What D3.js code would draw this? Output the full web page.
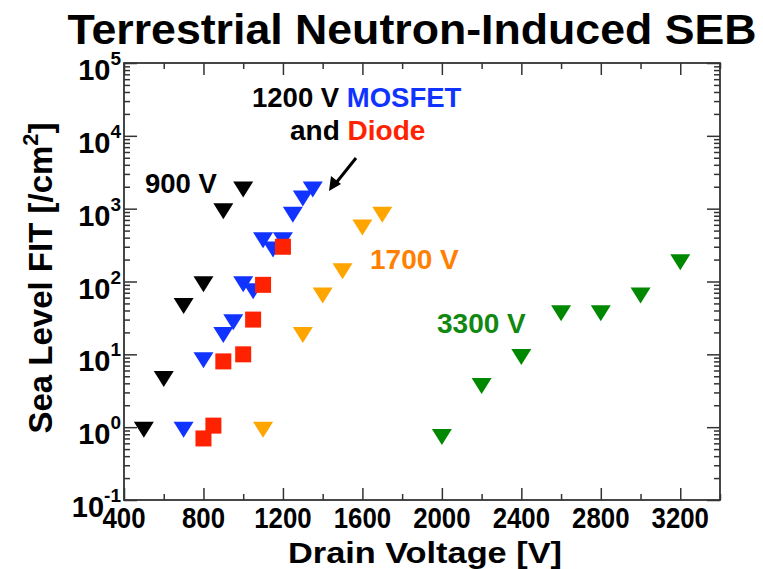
<!DOCTYPE html>
<html><head><meta charset="utf-8">
<script src="https://cdn.jsdelivr.net/npm/d3@7"></script>
<style>
html,body{margin:0;padding:0;background:#fff;}
text{font-family:"Liberation Sans",Arial,Helvetica,sans-serif;font-weight:bold;}
</style></head>
<body><svg id="chart" width="763" height="569"></svg>
<script>
// ---- data ----
const xTickValues = [400,800,1200,1600,2000,2400,2800,3200];
const xMinorValues = [600,1000,1400,1800,2200,2600,3000,3400];
const yExponents = [-1,0,1,2,3,4,5];

const v900 = [500,600,700,800,900,1000];
const fit900 = [1,5,50,100,1000,2000];

const vMosfet = [700,800,900,950,1000,1050,1100,1150,1200,1250,1300,1350];
const fitMosfet = [1,9,20,30,100,80,400,300,400,900,1500,2000];

const vDiode = [800,850,900,1000,1050,1100,1200];
const fitDiode = [0.7,1.05,8,10,30,90,300];

const v1700 = [1100,1300,1400,1500,1600,1700];
const fit1700 = [1,20,70,150,600,900];

const v3300 = [2000,2200,2400,2600,2800,3000,3200];
const fit3300 = [0.8,4,10,40,40,70,200];

// ---- layout ----
const svg = d3.select("#chart");
const L=124, R=720, T=63, B=500;
const x = d3.scaleLinear().domain([400,3400]).range([L,R]);
const y = d3.scaleLog().domain([0.1,1e5]).range([B,T]);

const yMajor = yExponents.map(e=>Math.pow(10,e));
const yMinor = [];
yExponents.slice(0,-1).forEach(e=>{for(let k=2;k<=9;k++) yMinor.push(k*Math.pow(10,e));});

const tickCol = "#333";
function styleAxis(g){ g.select(".domain").remove(); g.selectAll("line").attr("stroke",tickCol).attr("stroke-width",1.5); }

svg.append("g").attr("transform",`translate(0,${B})`).call(d3.axisBottom(x).tickValues(xTickValues).tickSize(-12).tickFormat("")).call(styleAxis);
svg.append("g").attr("transform",`translate(0,${B})`).call(d3.axisBottom(x).tickValues(xMinorValues).tickSize(-6).tickFormat("")).call(styleAxis);
svg.append("g").attr("transform",`translate(0,${T})`).call(d3.axisTop(x).tickValues(xTickValues).tickSize(-12).tickFormat("")).call(styleAxis);
svg.append("g").attr("transform",`translate(0,${T})`).call(d3.axisTop(x).tickValues(xMinorValues).tickSize(-6).tickFormat("")).call(styleAxis);
svg.append("g").attr("transform",`translate(${L},0)`).call(d3.axisLeft(y).tickValues(yMajor).tickSize(-13).tickFormat("")).call(styleAxis);
svg.append("g").attr("transform",`translate(${L},0)`).call(d3.axisLeft(y).tickValues(yMinor).tickSize(-6).tickFormat("")).call(styleAxis);
svg.append("g").attr("transform",`translate(${R},0)`).call(d3.axisRight(y).tickValues(yMajor).tickSize(-13).tickFormat("")).call(styleAxis);
svg.append("g").attr("transform",`translate(${R},0)`).call(d3.axisRight(y).tickValues(yMinor).tickSize(-6).tickFormat("")).call(styleAxis);

svg.append("rect").attr("x",L).attr("y",T).attr("width",R-L).attr("height",B-T)
  .attr("fill","none").attr("stroke",tickCol).attr("stroke-width",1.8);

// x tick labels
svg.append("g").selectAll("text").data(xTickValues).join("text")
  .attr("transform",d=>`translate(${x(d)},528) scale(0.86,1)`)
  .attr("text-anchor","middle").attr("font-size",30).attr("fill","#000").text(d=>d);

// y tick labels
const yl = svg.append("g").selectAll("text").data(yExponents).join("text")
  .attr("x",121).attr("y",d=>y(Math.pow(10,d))+17).attr("text-anchor","end").attr("fill","#000");
yl.append("tspan").attr("font-size",29).text("10");
yl.append("tspan").attr("font-size",19).attr("dy",-15).text(d=>d);

// titles
svg.append("text").attr("x",412).attr("y",44).attr("text-anchor","middle").attr("font-size",42)
  .attr("textLength",689).attr("lengthAdjust","spacingAndGlyphs").text("Terrestrial Neutron-Induced SEB");
svg.append("text").attr("x",425).attr("y",563).attr("text-anchor","middle").attr("font-size",30)
  .attr("textLength",274).attr("lengthAdjust","spacingAndGlyphs").text("Drain Voltage [V]");
const yt = svg.append("text").attr("transform","translate(52,278) rotate(-90)").attr("text-anchor","middle").attr("font-size",33);
yt.append("tspan").text("Sea Level FIT [/cm");
yt.append("tspan").attr("font-size",22).attr("dy",-14).text("2");
yt.append("tspan").attr("dy",14).text("]");

// markers
const tri = "M-10,-5.33L10,-5.33L0,10.67Z";
function triangles(vs,fs,col){
  svg.append("g").selectAll("path").data(vs.map((v,i)=>[v,fs[i]])).join("path")
    .attr("d",tri).attr("transform",d=>`translate(${x(d[0])},${y(d[1])})`).attr("fill",col);
}
triangles(v900,fit900,"#000000");
triangles(vMosfet,fitMosfet,"#1133ff");
svg.append("g").selectAll("rect").data(vDiode.map((v,i)=>[v,fitDiode[i]])).join("rect")
  .attr("x",d=>x(d[0])-8).attr("y",d=>y(d[1])-8).attr("width",16).attr("height",16).attr("fill","#ff2200");
triangles(v1700,fit1700,"#ffa500");
triangles(v3300,fit3300,"#008800");

// annotations
svg.append("text").attr("x",145).attr("y",193).attr("font-size",27.5).attr("fill","#000").text("900 V");
const t1 = svg.append("text").attr("x",252).attr("y",107).attr("font-size",27.5);
t1.append("tspan").attr("fill","#000").text("1200 V ");
t1.append("tspan").attr("fill","#1133ff").text("MOSFET");
const t2 = svg.append("text").attr("x",290).attr("y",140).attr("font-size",28);
t2.append("tspan").attr("fill","#000").text("and ");
t2.append("tspan").attr("fill","#ff2200").text("Diode");
svg.append("text").attr("x",370).attr("y",269).attr("font-size",28).attr("fill","#ff8000").text("1700 V");
svg.append("text").attr("x",437).attr("y",333).attr("font-size",28).attr("fill","#118811").text("3300 V");

// arrow
svg.append("line").attr("x1",356).attr("y1",158).attr("x2",336).attr("y2",183)
  .attr("stroke","#000").attr("stroke-width",3);
svg.append("path").attr("d","M329,191 L331,176 L341,184 Z").attr("fill","#000");
</script></body></html>
